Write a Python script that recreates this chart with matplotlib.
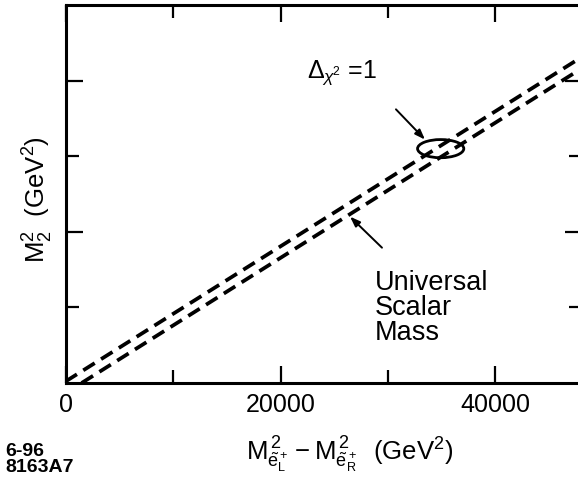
import matplotlib
matplotlib.use("Agg")
import matplotlib.pyplot as plt
from matplotlib.patches import Ellipse
import numpy as np

plt.rcParams['font.family'] = ['Liberation Sans', 'DejaVu Sans']
plt.rcParams['mathtext.fontset'] = 'custom'
plt.rcParams['mathtext.rm'] = 'Liberation Sans'
plt.rcParams['mathtext.it'] = 'Liberation Sans:italic'
plt.rcParams['mathtext.bf'] = 'Liberation Sans:bold'

# ---- data ----
upper_x = [0, 48000]
upper_y = [0.02, 4.31]
lower_x = [1500, 48000]
lower_y = [0.0, 4.16]

ellipse_center = (34900, 3.10)
ellipse_w = 4300
ellipse_h = 0.24

x_major = [0, 20000, 40000]
x_major_labels = ['0', '20000', '40000']
x_minor = [10000, 30000]
y_major = [2, 4]
y_minor = [1, 3]

fig = plt.figure(figsize=(5.78, 4.82), dpi=100)
ax = fig.add_axes([65.5/578, 99/482, 516/578, 378/482])
ax.set_xlim(0, 48000)
ax.set_ylim(0, 5)

dash = (0, (3.6, 2.0))
ax.plot(upper_x, upper_y, color='black', lw=2.7, linestyle=dash, clip_on=True)
ax.plot(lower_x, lower_y, color='black', lw=2.7, linestyle=dash, clip_on=True)

ax.add_patch(Ellipse(ellipse_center, ellipse_w, ellipse_h, fill=False,
                     edgecolor='black', lw=2.0))

ax.annotate('', xy=(33440, 3.22), xytext=(30740, 3.62),
            arrowprops=dict(arrowstyle='-|>,head_length=0.6,head_width=0.22',
                            color='black', lw=1.4, shrinkA=0, shrinkB=0))
ax.annotate('', xy=(26470, 2.20), xytext=(29440, 1.79),
            arrowprops=dict(arrowstyle='-|>,head_length=0.6,head_width=0.22',
                            color='black', lw=1.4, shrinkA=0, shrinkB=0))

ax.text(22470, 4.04, r'$\Delta_{\chi^{\!2}}$ =1', fontsize=18, ha='left', va='baseline')
ax.text(28790, 1.50, 'Universal\nScalar\nMass', fontsize=19.5, ha='left', va='top',
        linespacing=0.95)

for s in ax.spines.values():
    s.set_linewidth(2.2)

ax.set_xticks(x_major)
ax.set_xticklabels(x_major_labels)
ax.set_xticks(x_minor, minor=True)
ax.set_yticks(y_major)
ax.set_yticks(y_minor, minor=True)
ax.set_yticklabels([])
ax.tick_params(which='both', direction='in', top=True, right=True, width=1.6,
               labelsize=18, pad=7)
ax.tick_params(which='major', length=12.5)
ax.tick_params(which='minor', length=9.5)

ax.set_xlabel(r'$\mathregular{M^{\,2}_{\tilde{e}^+_L} - M^{\,2}_{\tilde{e}^+_R}}$  (GeV$^2$)',
              fontsize=18.5)
ax.xaxis.label.set_va('baseline')
ax.xaxis.set_label_coords((350-65.5)/516, (383-460)/378)

ax.set_ylabel(r'M$_2^2$  (GeV$^2$)', fontsize=18.5)
ax.yaxis.label.set_va('baseline')
ax.yaxis.set_label_coords((46-65.5)/516, (383-200)/378)

fig.text(5/578, 1-472/482, '6-96\n8163A7', fontsize=14, ha='left', va='baseline',
         linespacing=0.95, fontweight='bold')

fig.savefig('out.png', dpi=100)
